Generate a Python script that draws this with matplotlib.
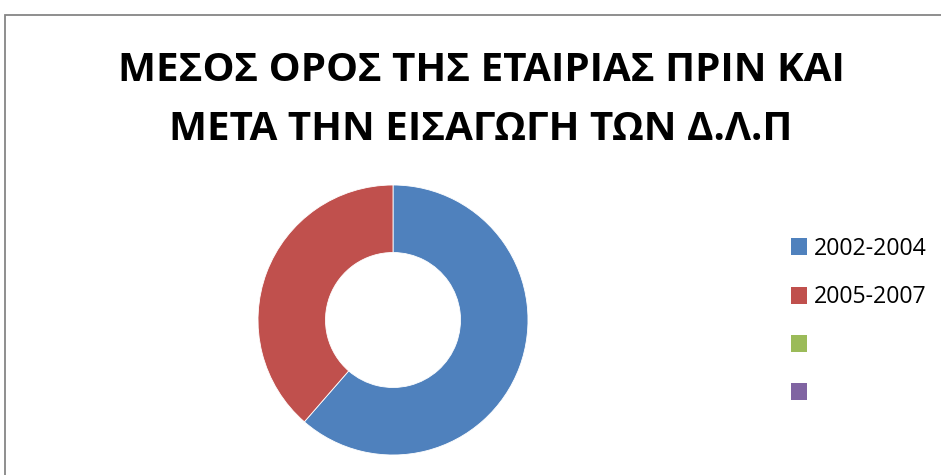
import matplotlib
matplotlib.use("Agg")
import matplotlib.pyplot as plt
from matplotlib.patches import Patch, Rectangle

plt.rcParams["font.family"] = ["Open Sans", "DejaVu Sans"]

title = "ΜΕΣΟΣ ΟΡΟΣ ΤΗΣ ΕΤΑΙΡΙΑΣ ΠΡΙΝ ΚΑΙ\nΜΕΤΑ ΤΗΝ ΕΙΣΑΓΩΓΗ ΤΩΝ Δ.Λ.Π"
periods = ["2002-2004", "2005-2007"]
values = [61.4, 38.6]
legend_labels = ["2002-2004", "2005-2007", " ", " "]
colors = ["#4F81BD", "#C0504D", "#9BBB59", "#8064A2"]

W, H = 941, 475
fig = plt.figure(figsize=(W / 100, H / 100), dpi=100)

# chart area border (extends past right/bottom edges)
fig.patches.append(Rectangle((4.5 / W, -0.1), 1.2, (H - 14.5) / H + 0.1,
                             transform=fig.transFigure, fill=False,
                             edgecolor="#868686", lw=1.3))

fig.text(481 / W, 1 - 100 / H, title, ha="center", va="center",
         fontsize=29, fontweight="bold", linespacing=1.68)

cx, cy, r = 393, 320, 135
ax = fig.add_axes([(cx - r) / W, (H - cy - r) / H, 2 * r / W, 2 * r / H])
ax.pie(values, colors=colors[:2], startangle=90, counterclock=False, radius=1,
       wedgeprops={"width": 0.5, "edgecolor": "white", "linewidth": 0.6})
ax.set_xlim(-1, 1)
ax.set_ylim(-1, 1)
ax.set_aspect("equal")
ax.axis("off")

handles = [Patch(facecolor=c, edgecolor="none") for c in colors]
fig.legend(handles, legend_labels, loc="upper left",
           bbox_to_anchor=(791 / W, 1 - 237 / H), frameon=False,
           fontsize=16.7, handlelength=0.7, handleheight=0.75,
           handletextpad=0.3, labelspacing=1.05, borderpad=0,
           borderaxespad=0)

fig.savefig("out.png", dpi=100)
